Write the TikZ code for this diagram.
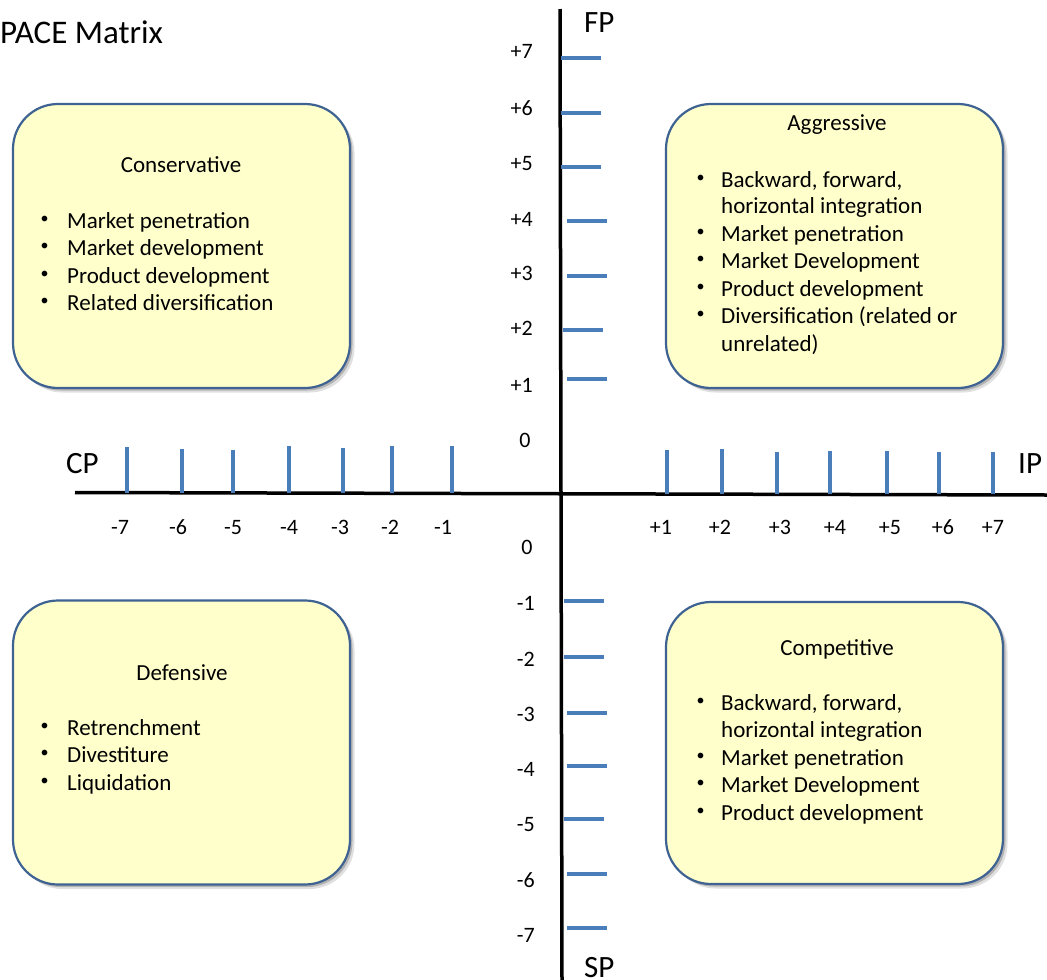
\documentclass[tikz,border=0pt]{standalone}
\usepackage{fontspec}
\setmainfont{Carlito}
\usetikzlibrary{shadows}
\definecolor{tickblue}{RGB}{74,126,187}
\definecolor{boxfill}{RGB}{255,255,204}
\definecolor{boxline}{RGB}{62,98,146}
\newcommand{\bodysize}{\fontsize{23}{27.6}\selectfont}
\begin{document}
\begin{tikzpicture}[x=1pt,y=-1pt,
  axis/.style={line width=3.5pt,black},
  tickmark/.style={line width=3.2pt,tickblue},
  ticklabel/.style={font=\fontsize{22}{26}\selectfont,inner sep=0pt},
  axislabel/.style={font=\fontsize{31}{37}\selectfont,inner sep=0pt,anchor=base west},
  quad/.style={draw=boxline,line width=2.2pt,fill=boxfill,rounded corners=45pt,
    minimum width=337pt,minimum height=284pt,inner sep=0pt,
    drop shadow={shadow xshift=4.5pt,shadow yshift=-4.5pt,opacity=0.12,fill=black},
    drop shadow={shadow xshift=2.5pt,shadow yshift=-2.5pt,opacity=0.2,fill=black}},
  heading/.style={font=\bodysize,anchor=base,inner sep=0pt},
  entry/.style={font=\bodysize,anchor=base west,inner sep=0pt},
  dot/.style={font=\fontsize{16}{16}\selectfont,anchor=base,inner sep=0pt}]
\useasboundingbox (0,0) rectangle (1047,980);

% title
\node[font=\fontsize{33}{40}\selectfont,anchor=base west,inner sep=0pt] (title) at (0,43) {PACE Matrix};

% axes
\coordinate (ytop) at (560,9);
\coordinate (ybot) at (562,980);
\coordinate (xleft) at (75,492.5);
\coordinate (xright) at (1047,495);
\draw[axis] (ytop) -- (ybot);
\draw[axis] (xleft) -- (xright);

\node[axislabel] (fp) at (584,32) {FP};
\node[axislabel] (sp) at (584,977) {SP};
\node[axislabel] (cp) at (66,473) {CP};
\node[axislabel] (ip) at (1018,473) {IP};

% vertical ticks (financial / stability position)
\foreach \y/\xa in {58/561,113/561,167/561,221/567,276/567,330/563,379/567,
                   601/564,657/564,713/567,766/567,819/564,874/567,928/567}
  \draw[tickmark] (\xa,\y) -- ++(40,0);
\foreach \b/\t in {58/+7,115/+6,170/+5,226/+4,280/+3,335/+2,392/+1}
  \node[ticklabel,anchor=base east] at (533,\b) {\t};
\foreach \b/\t in {610/-1,666/-2,721/-3,776/-4,831/-5,887/-6,942/-7}
  \node[ticklabel,anchor=base east] at (535,\b) {\t};
\node[ticklabel,anchor=base] (zeroup) at (525,447) {0};
\node[ticklabel,anchor=base] (zerodown) at (527,554) {0};

% horizontal ticks (competitive / industry position)
\foreach \x/\top in {127/447,182/449,233/450,289/446,343/448,392/446,452/446}
  \draw[tickmark] (\x,\top) -- (\x,493);
\foreach \x/\top in {667/450,722/449,777/452,830/451,887/451,939/452,993/452}
  \draw[tickmark] (\x,\top) -- (\x,494);
\foreach \x/\t in {120/-7,178/-6,233/-5,289/-4,340/-3,390/-2,443/-1}
  \node[ticklabel,anchor=base] at (\x,534) {\t};
\foreach \x/\t in {661/+1,720/+2,780/+3,835/+4,890/+5,943/+6,993/+7}
  \node[ticklabel,anchor=base] at (\x,534) {\t};

% quadrant boxes
\node[quad] (cons) at (181.5,246) {};
\node[quad] (aggr) at (834.5,246) {};
\node[quad] (defn) at (181.5,742.5) {};
\node[quad,minimum height=282pt] (comp) at (834.5,743) {};

% Conservative
\node[heading] (consT) at (181,172) {Conservative};
\foreach \b/\t in {228/Market penetration,255.5/Market development,283/Product development,310.5/Related diversification}{
  \node[dot] at (44.5,\b-5) {\textbullet};
  \node[entry] at (67,\b) {\t};
}

% Aggressive
\node[heading] (aggrT) at (837,130) {Aggressive};
\foreach \b in {187,241,268.5,296,323.5}
  \node[dot] at (700.5,\b-5) {\textbullet};
\foreach \b/\t in {187/{Backward, forward,},213.5/horizontal integration,241/Market penetration,
                   268.5/Market Development,296/Product development,323.5/Diversification (related or,351/unrelated)}
  \node[entry] at (721,\b) {\t};

% Defensive
\node[heading] (defnT) at (182,680) {Defensive};
\foreach \b/\t in {735/Retrenchment,762.5/Divestiture,790/Liquidation}{
  \node[dot] at (44.5,\b-5) {\textbullet};
  \node[entry] at (67,\b) {\t};
}

% Competitive
\node[heading] (compT) at (837,655) {Competitive};
\foreach \b in {710,765,792.5,820}
  \node[dot] at (700.5,\b-5) {\textbullet};
\foreach \b/\t in {710/{Backward, forward,},737.5/horizontal integration,765/Market penetration,
                   792.5/Market Development,820/Product development}
  \node[entry] at (721,\b) {\t};
\end{tikzpicture}
\end{document}
